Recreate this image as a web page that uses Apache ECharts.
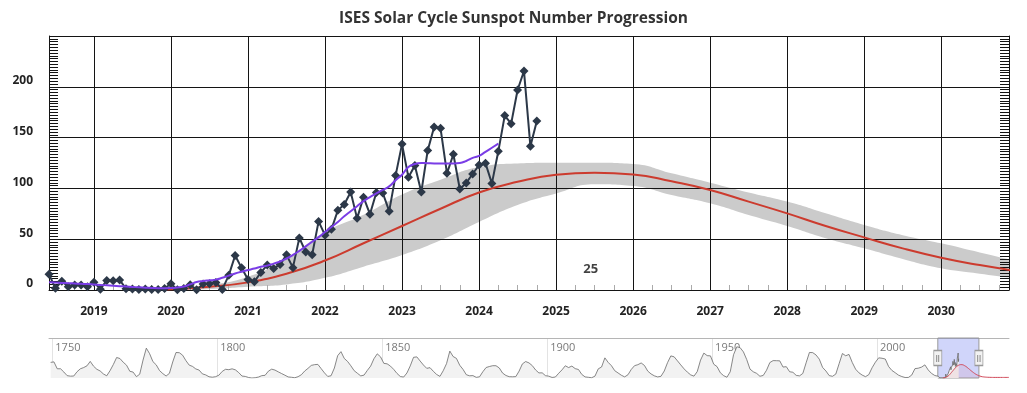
<!DOCTYPE html>
<html><head><meta charset="utf-8">
<script src="https://cdn.jsdelivr.net/npm/echarts@6/dist/echarts.min.js"></script>
<style>html,body{margin:0;padding:0;background:#fff}#c{width:1027px;height:393px}</style>
</head><body><div id="c"></div>
<script>
// ---- data ----
const chartTitle = 'ISES Solar Cycle Sunspot Number Progression';
const obsStartYear = 2018, obsStartMonth = 6;
const observedMonthly = [
  15.6,1.6,8.7,3.3,4.9,4.9,3.1,
  7.7,0.8,9.4,9.1,9.9,1.2,0.9,0.5,1.1,0.4,0.5,1.5,
  6.2,0.2,1.5,5.2,0.2,5.8,6.1,7.5,0.6,14.4,34.0,21.8,
  10.4,8.2,17.2,24.5,21.2,25.0,34.6,22.0,51.3,37.4,34.8,67.5,
  54.0,59.7,78.5,84.1,96.5,70.5,91.4,74.6,96.0,95.5,77.6,112.8,
  143.6,110.9,122.6,96.4,137.4,160.5,159.1,114.8,133.6,99.4,105.4,114.2,
  123.0,124.7,104.9,136.5,171.7,163.7,196.8,215.5,141.4,166.4
];
const smoothedMonthly = [
  7.6,7.3,7.0,6.7,6.4,6.1,5.8,
  5.4,5.0,4.6,4.2,3.8,3.4,3.0,2.6,2.3,2.0,1.8,1.8,
  1.9,2.5,3.5,5.5,7.8,8.8,9.5,10.2,12.0,14.2,16.3,18.0,
  19.7,21.2,22.8,24.0,26.0,28.0,31.0,34.5,38.5,43.0,47.5,52.0,
  57.0,62.0,67.0,72.5,77.5,82.5,87.5,91.5,95.0,98.5,102.0,108.0,
  113.5,121.0,124.0,125.0,124.8,124.6,124.6,124.6,124.6,125.0,127.0,130.0,
  132.0,136.0,140.0,144.0
];
const predYears = [2019.92,2020.5,2021,2021.5,2022,2022.5,2023,2023.5,2024,2024.5,2025,2025.5,2026,2026.5,2027,2027.5,2028,2028.5,2029,2029.5,2030,2030.5,2030.92];
const predMid   = [0.5,3.3,7.5,16,29,46,63,80,96,106.5,113.5,115.4,113.8,107,98.5,87,75.4,63,51.8,41,31.8,24.5,19.5];
const predHigh  = [0.8,5,13,31,57,74,94,108.5,121,124.6,125.2,125.2,124,114.8,105.6,96,87,75.5,64,54,46,37,29.5];
const predLow   = [0,1,3.3,5.5,12,23,34.4,49,67,83.6,95,104,102.3,93.5,85.3,73.8,63,51,41,30.5,21.3,16,11.8];
const predTailYears = [2031.5,2032.5,2034,2036,2038,2040];
const predTail      = [14,9,6,5,5,5];
const histStartYear = 1749;
const histYearly = [
  134.7,
  139.0,79.5,79.7,51.5,20.3,16.0,17.0,54.0,79.3,90.0,
  104.8,143.2,102.0,75.2,60.7,34.8,19.0,63.0,116.3,176.8,
  168.0,136.0,110.8,58.0,51.0,11.7,33.0,154.2,257.3,209.8,
  141.3,113.5,64.2,38.0,17.0,40.2,138.2,220.0,218.2,196.8,
  149.8,111.0,100.0,78.2,68.3,35.5,26.7,10.7,6.8,11.3,
  24.2,56.7,75.0,71.8,79.2,70.3,46.8,16.8,13.5,4.2,
  0.0,2.3,8.3,20.3,23.2,59.0,76.3,68.3,52.9,38.5,
  24.2,9.2,6.3,2.2,11.4,28.2,59.9,83.0,108.5,115.2,
  117.4,80.8,44.3,13.4,19.5,85.8,192.7,227.3,168.7,143.0,
  105.5,63.3,40.3,18.1,25.1,65.8,102.7,166.3,208.3,182.5,
  126.3,122.0,102.7,74.1,39.0,12.7,8.2,43.4,104.4,178.3,
  182.2,146.6,112.1,83.5,89.2,57.8,30.7,13.9,62.8,123.6,
  232.0,185.3,169.2,110.1,74.5,28.3,18.9,20.7,5.7,10.0,
  53.7,90.5,99.0,106.1,105.8,86.3,42.4,21.8,11.2,10.4,
  11.8,59.5,121.7,142.0,130.0,106.6,69.4,43.8,44.4,20.2,
  15.7,4.6,8.5,40.8,70.1,105.5,90.1,102.8,80.9,73.2,
  30.9,9.5,6.0,2.4,16.1,79.0,95.0,173.6,134.6,105.7,
  62.7,43.5,23.7,9.7,27.9,74.0,106.5,114.7,129.7,108.2,
  59.4,35.1,18.6,9.2,14.6,60.2,132.8,190.6,182.6,148.0,
  113.0,79.2,50.8,27.1,16.1,55.3,154.3,214.7,193.0,190.7,
  118.9,98.3,45.0,20.1,6.6,54.2,200.7,269.3,261.7,225.1,
  159.0,76.4,53.4,39.9,15.0,22.0,66.8,132.9,150.0,149.4,
  148.0,94.4,97.6,54.1,49.2,22.5,18.4,39.3,131.0,220.1,
  218.9,198.9,162.4,91.0,60.5,20.6,14.8,33.9,123.0,211.1,
  191.8,203.3,133.0,76.1,44.9,25.1,11.6,28.9,88.3,136.3,
  173.9,170.4,163.6,99.3,65.3,45.8,24.7,12.6,4.2,4.8,
  24.9,80.8,84.5,94.0,113.3,69.8,39.8,21.7
];
const yearTicks = [2019,2020,2021,2022,2023,2024,2025,2026,2027,2028,2029,2030];
const navTicks = [1750,1800,1850,1900,1950,2000];
const cycleLabels = [{name:'25', year:2025.45, value:20}];
const viewStart = 2018 + 5/12, viewEnd = 2030.88;
const navMin = 1749, navMax = 2040, navYMax = 345;

// ---- build ----
const monthX = i => obsStartYear + (obsStartMonth - 1 + i) / 12;
const obsData = observedMonthly.map((v, i) => [monthX(i), v]);
const smoData = smoothedMonthly.map((v, i) => [monthX(i), v]);
const predData = predYears.map((x, i) => [x, predMid[i]]);
const highData = predYears.map((x, i) => [x, predHigh[i]]);
const lowData = predYears.map((x, i) => [x, predLow[i]]);
const navHist = histYearly.map((v, i) => [histStartYear + i + 0.5, v]).concat(obsData);
const navPred = predData.concat(predTailYears.map((x, i) => [x, predTail[i]]));
const quarterTicks = [];
for (let y = 2018; y <= 2030; y++) [0.25, 0.5, 0.75].forEach(q => quarterTicks.push(y + q));
const yearFmt = v => String(Math.round(v));

const FONT = '"Open Sans", sans-serif';
const BLK = '#141414';
const chart = echarts.init(document.getElementById('c'), null, {renderer: 'canvas'});
chart.setOption({
  animation: false,
  backgroundColor: '#fff',
  title: {text: chartTitle, left: 'center', top: 6,
    textStyle: {fontFamily: FONT, fontSize: 15.5, fontWeight: 'bold', color: '#333'}},
  grid: [
    {left: 49, right: 18, top: 36, bottom: 103},
    {left: 49, right: 18, top: 338, height: 40}
  ],
  xAxis: [
    {type: 'value', gridIndex: 0, min: viewStart, max: viewEnd, position: 'bottom',
      axisLine: {show: true, onZero: false, lineStyle: {color: BLK, width: 1}},
      axisTick: {show: false, customValues: yearTicks},
      axisLabel: {customValues: yearTicks, formatter: yearFmt,
        fontFamily: FONT, fontSize: 12, fontWeight: 'bold', color: '#222', margin: 16},
      splitLine: {show: true, lineStyle: {color: BLK, width: 1}}},
    {type: 'value', gridIndex: 0, min: viewStart, max: viewEnd, position: 'bottom',
      axisLine: {show: false}, axisLabel: {show: false}, splitLine: {show: false},
      axisTick: {show: true, inside: true, length: 5, customValues: quarterTicks,
        lineStyle: {color: '#aaa', width: 1}}},
    {type: 'value', gridIndex: 1, min: navMin, max: navMax, position: 'top',
      axisLine: {show: true, onZero: false, lineStyle: {color: '#b5b5b5', width: 1}},
      axisTick: {show: false, customValues: navTicks},
      axisLabel: {customValues: navTicks, formatter: yearFmt, inside: true, align: 'left', verticalAlign: 'top',
        margin: 4, padding: [0, 0, 0, 3], fontFamily: FONT, fontSize: 11, color: '#7a7a7a'},
      splitLine: {show: true, lineStyle: {color: '#e3e3e3', width: 1}}}
  ],
  yAxis: [
    {type: 'value', gridIndex: 0, min: 0, max: 250, interval: 50, position: 'left',
      axisLine: {show: true, lineStyle: {color: BLK, width: 1}},
      axisTick: {show: true, inside: true, length: 9, lineStyle: {color: BLK}},
      minorTick: {show: true, splitNumber: 18, length: 9, lineStyle: {color: BLK}},
      axisLabel: {showMaxLabel: false, fontFamily: FONT, fontSize: 12, fontWeight: 'bold',
        color: '#222', margin: 16, verticalAlign: 'bottom'},
      splitLine: {show: true, lineStyle: {color: BLK, width: 1}}},
    {type: 'value', gridIndex: 0, min: 0, max: 250, interval: 50, position: 'right',
      axisLine: {show: true, lineStyle: {color: BLK, width: 1}},
      axisTick: {show: true, inside: true, length: 9, lineStyle: {color: BLK}},
      minorTick: {show: true, splitNumber: 18, length: 9, lineStyle: {color: BLK}},
      axisLabel: {show: false}, splitLine: {show: false}},
    {type: 'value', gridIndex: 1, min: 0, max: navYMax, show: false}
  ],
  series: [
    {name: 'Predicted High', type: 'line', xAxisIndex: 0, yAxisIndex: 0, data: highData,
      smooth: true, symbol: 'none', z: -3, silent: true,
      lineStyle: {width: 0, opacity: 0}, areaStyle: {color: '#cbcbcb', opacity: 1}},
    {name: 'Predicted Low', type: 'line', xAxisIndex: 0, yAxisIndex: 0, data: lowData,
      smooth: true, symbol: 'none', z: -2, silent: true,
      lineStyle: {width: 0, opacity: 0}, areaStyle: {color: '#ffffff', opacity: 1}},
    {name: 'Predicted', type: 'line', xAxisIndex: 0, yAxisIndex: 0, data: predData,
      smooth: true, symbol: 'none', z: 3, lineStyle: {color: '#cc3b2e', width: 2}},
    {name: 'Monthly', type: 'line', xAxisIndex: 0, yAxisIndex: 0, data: obsData,
      symbol: 'diamond', symbolSize: 9, z: 4,
      lineStyle: {color: '#2c3848', width: 2}, itemStyle: {color: '#2c3848'}},
    {name: 'Smoothed', type: 'line', xAxisIndex: 0, yAxisIndex: 0, data: smoData,
      smooth: true, symbol: 'none', z: 5, lineStyle: {color: '#7a3de6', width: 2}},
    {name: 'Cycle', type: 'scatter', xAxisIndex: 0, yAxisIndex: 0, z: 6,
      data: cycleLabels.map(c => ({name: c.name, value: [c.year, c.value]})),
      symbolSize: 1, itemStyle: {color: 'transparent'},
      label: {show: true, position: 'inside', formatter: p => p.name,
        fontFamily: FONT, fontSize: 13, fontWeight: 'bold', color: '#111'}},
    {name: 'History', type: 'line', xAxisIndex: 2, yAxisIndex: 2, data: navHist,
      symbol: 'none', z: 2, silent: true,
      lineStyle: {color: '#6a6a6a', width: 0.8}, areaStyle: {color: '#f2f2f2', opacity: 1},
      markArea: {silent: true,
        itemStyle: {color: 'rgba(100,115,240,0.3)', borderColor: '#9a9a9a', borderWidth: 1},
        data: [[{xAxis: viewStart}, {xAxis: viewEnd}]]},
      markPoint: {silent: true, symbol: 'rect', symbolSize: [8, 15],
        itemStyle: {color: '#f2f2f2', borderColor: '#999', borderWidth: 1},
        label: {show: true, position: 'inside', formatter: '||', fontSize: 8, color: '#555'},
        data: [{coord: [viewStart, navYMax / 2]}, {coord: [viewEnd, navYMax / 2]}]}},
    {name: 'Predicted (nav)', type: 'line', xAxisIndex: 2, yAxisIndex: 2, data: navPred,
      smooth: true, symbol: 'none', z: 3, silent: true,
      lineStyle: {color: '#d04a5a', width: 1}, areaStyle: {color: 'rgba(210,60,80,0.12)'}}
  ]
});
</script></body></html>
